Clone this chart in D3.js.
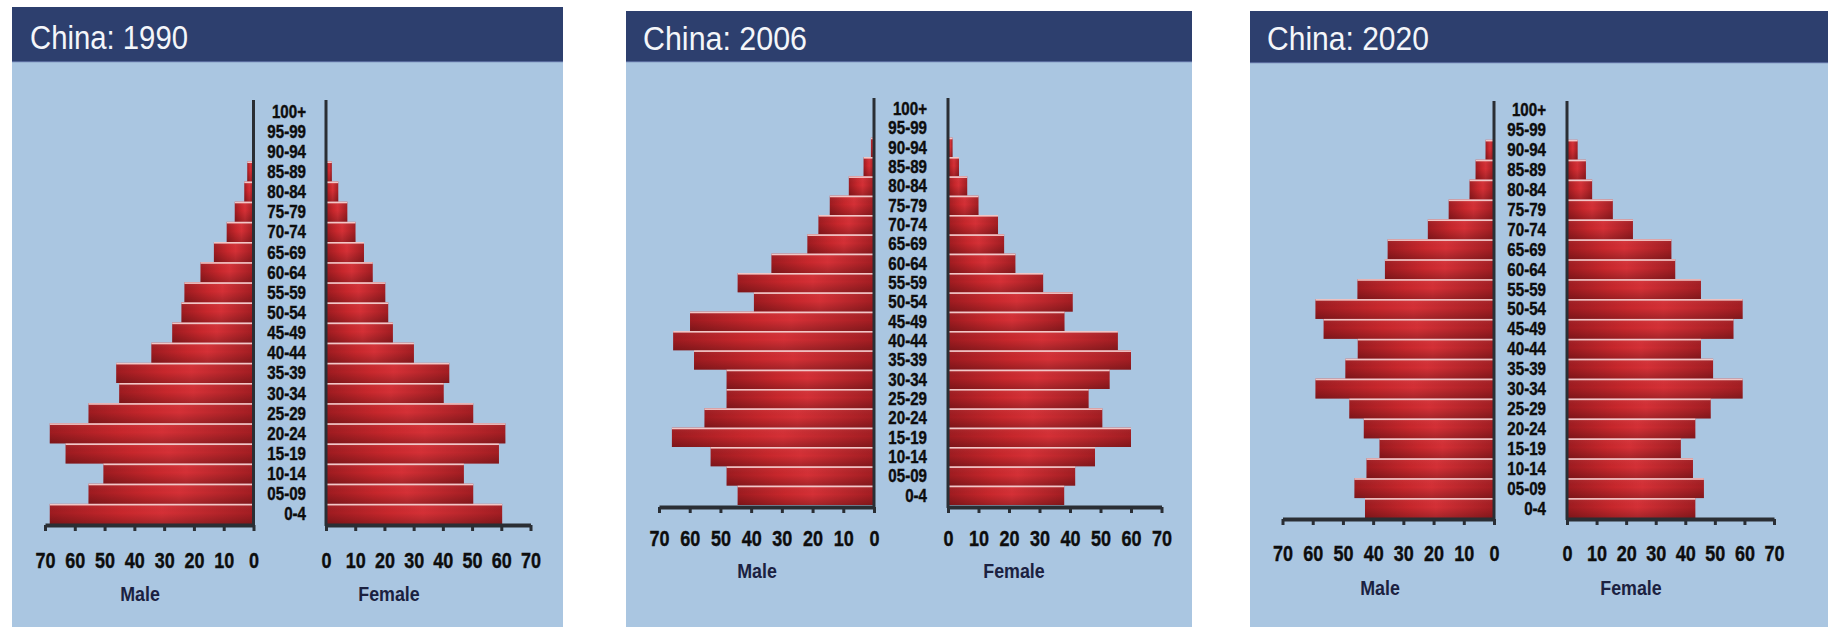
<!DOCTYPE html>
<html><head><meta charset="utf-8">
<script src="https://cdn.jsdelivr.net/npm/d3@7"></script>
<style>body{margin:0;background:#fff;} svg{display:block;}</style>
</head><body>
<svg id="chart" width="1829" height="636"></svg>
<script>
// ---------- DATA ----------
const ageGroups = ["100+","95-99","90-94","85-89","80-84","75-79","70-74","65-69","60-64","55-59","50-54","45-49","40-44","35-39","30-34","25-29","20-24","15-19","10-14","05-09","0-4"];
const titles = ["China: 1990","China: 2006","China: 2020"];
const axisTicks = [0,10,20,30,40,50,60,70];
const sexLabels = ["Male","Female"];
const male1990   = [0,0,0,2.1,3.1,6.3,9.0,13.3,17.8,23.2,24.2,27.3,34.3,46.1,45.1,55.4,68.4,63.1,50.4,55.4,68.4];
const female1990 = [0,0,0,2.0,4.2,7.3,10.1,13.0,16.0,20.3,21.3,22.9,30.1,42.2,40.3,50.4,61.4,59.2,47.2,50.4,60.3];
const male2006   = [0,0,1.0,3.4,8.2,14.4,18.1,21.7,33.4,44.4,39.1,59.9,65.4,58.6,48.0,48.0,55.2,65.8,53.2,48.0,44.4];
const female2006 = [0,0,1.5,3.6,6.3,10.0,16.4,18.4,22.1,31.2,40.9,38.2,55.7,60.0,53.0,46.1,50.6,60.0,48.2,41.7,38.1];
const male2020   = [0,0,2.8,6.1,8.1,15.0,21.9,35.2,36.1,45.2,59.1,56.4,45.1,49.2,59.1,47.9,43.1,37.9,42.2,46.2,42.7];
const female2020 = [0,0,3.6,6.4,8.5,15.5,22.3,35.3,36.6,45.3,59.4,56.3,45.3,49.4,59.4,48.6,43.4,38.5,42.6,46.3,43.4];

// ---------- LAYOUT ----------
const panels = [
  {title: titles[0], male: male1990, female: female1990,
   x:12, y:7, w:551, h:620, headerBottom:62, titleX:30, titleY:49, titleW:158,
   mZero:253.5, m70:45, fZero:326, f70:530.5, bandTop:101, bandBottom:524, axisY:525, axisTop:100,
   tickY:560, sexY:593, maleX:140, femaleX:389, ageX:306},
  {title: titles[1], male: male2006, female: female2006,
   x:626, y:11, w:566, h:616, headerBottom:62, titleX:643, titleY:50, titleW:164,
   mZero:874, m70:659, fZero:948, f70:1161.5, bandTop:99, bandBottom:505, axisY:507, axisTop:98,
   tickY:538, sexY:570, maleX:757, femaleX:1014, ageX:927},
  {title: titles[2], male: male2020, female: female2020,
   x:1250, y:11, w:578, h:616, headerBottom:63, titleX:1267, titleY:50, titleW:162,
   mZero:1494, m70:1282.5, fZero:1567, f70:1774, bandTop:100, bandBottom:518, axisY:519, axisTop:101,
   tickY:553, sexY:587, maleX:1380, femaleX:1631, ageX:1546}
];

const FONT = "'Liberation Sans', Arial, Helvetica, sans-serif";
const svg = d3.select("#chart");
const defs = svg.append("defs");
const gH = defs.append("linearGradient").attr("id","barH").attr("x1",0).attr("x2",1).attr("y1",0).attr("y2",0);
[["0%","#9e1b20"],["35%","#c8272c"],["55%","#d53036"],["100%","#a31d22"]].forEach(s=>gH.append("stop").attr("offset",s[0]).attr("stop-color",s[1]));
const gV = defs.append("linearGradient").attr("id","barV").attr("x1",0).attr("x2",0).attr("y1",0).attr("y2",1);
[["0%","#ffffff",0.06],["45%","#000000",0],["100%","#000000",0.22]].forEach(s=>gV.append("stop").attr("offset",s[0]).attr("stop-color",s[1]).attr("stop-opacity",s[2]));

panels.forEach(p => {
  const g = svg.append("g");
  // background + header
  g.append("rect").attr("x",p.x).attr("y",p.y).attr("width",p.w).attr("height",p.h).attr("fill","#aac6e1");
  g.append("rect").attr("x",p.x).attr("y",p.y).attr("width",p.w).attr("height",p.headerBottom-p.y).attr("fill","#2d3f6e");
  g.append("rect").attr("x",p.x).attr("y",p.headerBottom-1).attr("width",p.w).attr("height",1.2).attr("fill","#56689a");
  g.append("text").attr("x",p.titleX).attr("y",p.titleY).text(p.title)
    .attr("fill","#f4f6fa").attr("font-family",FONT).attr("font-size",33)
    .attr("textLength",p.titleW).attr("lengthAdjust","spacingAndGlyphs");

  const y = d3.scaleBand().domain(ageGroups).range([p.bandTop,p.bandBottom]).padding(0);
  const xM = d3.scaleLinear().domain([0,70]).range([p.mZero,p.m70]);
  const xF = d3.scaleLinear().domain([0,70]).range([p.fZero,p.f70]);
  const maleData = ageGroups.map((a,i)=>({age:a, v:p.male[i]})).filter(d=>d.v>0);
  const femData = ageGroups.map((a,i)=>({age:a, v:p.female[i]})).filter(d=>d.v>0);

  function bars(data, side){
    const xs = side==="m" ? xM : xF;
    const bx = d => side==="m" ? xs(d.v) : xs(0);
    const bw = d => Math.abs(xs(d.v)-xs(0));
    const sel = g.append("g").selectAll("g").data(data).join("g");
    sel.append("rect").attr("x",bx).attr("y",d=>y(d.age)).attr("width",bw).attr("height",y.bandwidth()).attr("fill","url(#barH)");
    sel.append("rect").attr("x",bx).attr("y",d=>y(d.age)).attr("width",bw).attr("height",y.bandwidth()).attr("fill","url(#barV)");
    sel.append("rect").attr("x",bx).attr("y",d=>y(d.age)).attr("width",bw).attr("height",1.6).attr("fill","#f2c7c7");
  }
  bars(maleData,"m");
  bars(femData,"f");

  // vertical zero lines
  [p.mZero, p.fZero].forEach(x0=>{
    g.append("line").attr("x1",x0).attr("x2",x0).attr("y1",p.axisTop).attr("y2",p.axisY+1)
      .attr("stroke","#2a2e34").attr("stroke-width",3);
  });

  // bottom axes
  [[xM,p.maleX,sexLabels[0]],[xF,p.femaleX,sexLabels[1]]].forEach(([sc,lx,lab])=>{
    const ax = g.append("g").attr("transform",`translate(0,${p.axisY})`)
      .call(d3.axisBottom(sc).tickValues(axisTicks).tickSize(6).tickSizeOuter(0).tickPadding(0).tickFormat(d3.format("d")));
    ax.select(".domain").attr("stroke","#2a2e34").attr("stroke-width",4);
    ax.selectAll(".tick line").attr("stroke","#2a2e34").attr("stroke-width",3);
    ax.selectAll(".tick text").attr("y",p.tickY-p.axisY).attr("dy","0.36em")
      .attr("fill","#0d0d0d").attr("font-family",FONT).attr("font-weight","bold").attr("font-size",22.5)
      .attr("stroke","#0d0d0d").attr("stroke-width",0.4)
      .attr("transform","scale(0.8,1)");
    g.append("text").attr("x",lx).attr("y",p.sexY).attr("dy","0.36em").attr("text-anchor","middle")
      .text(lab).attr("fill","#1b2140").attr("font-family",FONT).attr("font-weight","bold").attr("font-size",21)
      .attr("transform",`translate(${lx},0) scale(0.85,1) translate(${-lx},0)`);
  });

  // age labels
  g.append("g").selectAll("text").data(ageGroups).join("text")
    .attr("x",p.ageX).attr("y",d=>y(d)+y.bandwidth()/2).attr("dy","0.36em").attr("text-anchor","end")
    .text(d=>d).attr("fill","#0d0d0d").attr("font-family",FONT).attr("font-weight","bold").attr("font-size",18)
    .attr("stroke","#0d0d0d").attr("stroke-width",0.4)
    .attr("transform",`translate(${p.ageX},0) scale(0.84,1) translate(${-p.ageX},0)`);
});
</script>
</body></html>
